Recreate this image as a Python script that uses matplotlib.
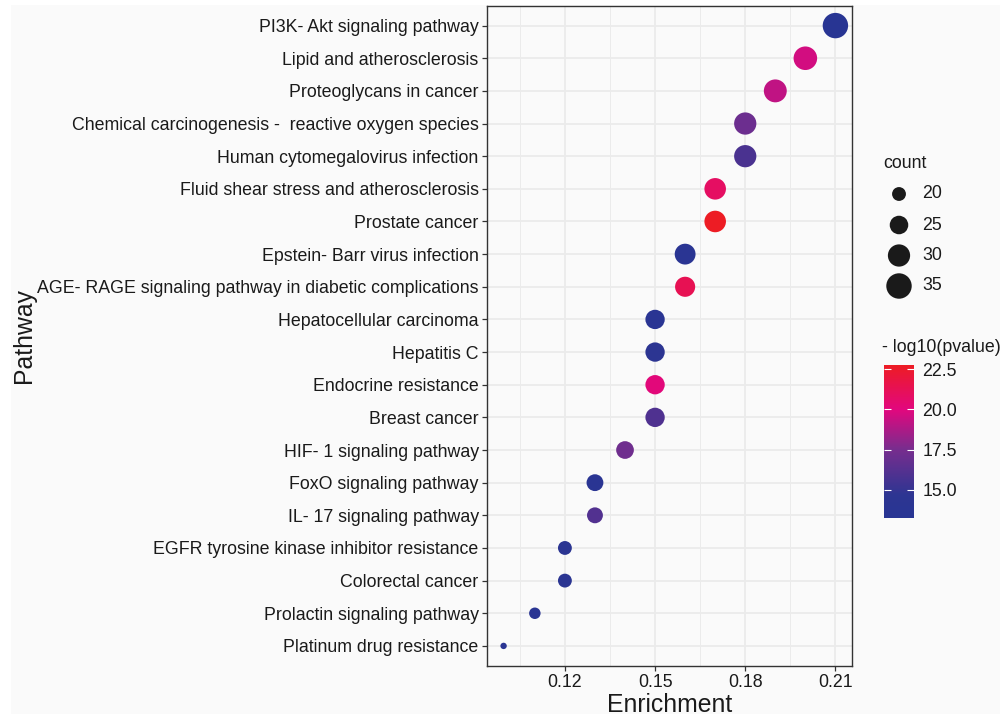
import numpy as np
import matplotlib
matplotlib.use('Agg')
import matplotlib.pyplot as plt
from matplotlib.colors import LinearSegmentedColormap, Normalize
from matplotlib.colorbar import ColorbarBase
from matplotlib.patches import Rectangle

# pathways, top to bottom as shown in the chart
pathways = [
    'PI3K- Akt signaling pathway',
    'Lipid and atherosclerosis',
    'Proteoglycans in cancer',
    'Chemical carcinogenesis -  reactive oxygen species',
    'Human cytomegalovirus infection',
    'Fluid shear stress and atherosclerosis',
    'Prostate cancer',
    'Epstein- Barr virus infection',
    'AGE- RAGE signaling pathway in diabetic complications',
    'Hepatocellular carcinoma',
    'Hepatitis C',
    'Endocrine resistance',
    'Breast cancer',
    'HIF- 1 signaling pathway',
    'FoxO signaling pathway',
    'IL- 17 signaling pathway',
    'EGFR tyrosine kinase inhibitor resistance',
    'Colorectal cancer',
    'Prolactin signaling pathway',
    'Platinum drug resistance',
]
enrichment = [0.21, 0.20, 0.19, 0.18, 0.18, 0.17, 0.17, 0.16, 0.16, 0.15,
              0.15, 0.15, 0.15, 0.14, 0.13, 0.13, 0.12, 0.12, 0.11, 0.0996]
count = [35, 32, 31, 30, 30, 29, 29, 28, 27, 26,
         26, 26, 26, 24, 23, 22, 20, 20, 18, 15]
neglog_p = [13.26, 19.6, 19.2, 17.1, 15.8, 20.85, 22.75, 13.8, 21.3, 14.0,
            14.4, 20.1, 16.0, 17.2, 14.0, 16.1, 14.2, 14.2, 14.0, 14.0]

x_ticks = [0.12, 0.15, 0.18, 0.21]
size_breaks = [20, 25, 30, 35]
color_breaks = [15.0, 17.5, 20.0, 22.5]

BG = '#fafafa'
FONT = 'Liberation Sans'
TXT = 12.8
INK = '#1a1a1a'


def point_area(c, cmin, cmax, dmin=4.6, dmax=18.3):
    # area grows linearly with count (like ggplot scale_size)
    d2 = dmin ** 2 + (np.asarray(c, float) - cmin) / (cmax - cmin) * (dmax ** 2 - dmin ** 2)
    return d2


def main():
    plt.rcParams['font.family'] = [FONT, 'DejaVu Sans']

    cmap = LinearSegmentedColormap.from_list('pval', [
        (0.0, '#283593'), (0.15, '#2d3592'), (0.45, '#782d8e'),
        (0.71, '#e2077e'), (1.0, '#ed1c24')])
    norm = Normalize(vmin=min(neglog_p), vmax=max(neglog_p))
    cmin, cmax = min(count), max(count)

    fig = plt.figure(figsize=(10.04, 7.18), dpi=100, facecolor='white')

    # overlay in pixel coordinates for background and the size legend
    lax = fig.add_axes([0, 0, 1, 1], zorder=-1)
    lax.set_xlim(0, 1004)
    lax.set_ylim(718, 0)
    lax.axis('off')
    lax.add_patch(Rectangle((11, 5), 989, 709, facecolor=BG, edgecolor='none'))

    ax = fig.add_axes([487 / 1004, 1 - 665.5 / 718, 365 / 1004, 659.5 / 718])
    ax.set_facecolor(BG)

    ypos = np.arange(len(pathways))[::-1]
    ax.scatter(enrichment, ypos, s=point_area(count, cmin, cmax),
               c=neglog_p, cmap=cmap, norm=norm, edgecolors='none', zorder=3)

    # axis settings
    xr = max(enrichment) - min(enrichment)
    ax.set_xlim(min(enrichment) - 0.05 * xr, max(enrichment) + 0.05 * xr)
    ax.set_ylim(-0.6, len(pathways) - 0.4)
    ax.set_xticks(x_ticks)
    ax.set_xticklabels(['%.2f' % t for t in x_ticks])
    ax.set_xticks([0.105, 0.135, 0.165, 0.195], minor=True)
    ax.set_yticks(ypos)
    ax.set_yticklabels(pathways)
    ax.tick_params(axis='both', which='major', length=3.5, width=0.9,
                   color='#333333', labelsize=TXT, labelcolor=INK, pad=2.5)
    ax.tick_params(axis='x', which='minor', length=0)

    # grid
    ax.grid(True, which='major', color='#ebebeb', linewidth=1.3, zorder=0)
    ax.grid(True, which='minor', axis='x', color='#ebebeb', linewidth=0.7, zorder=0)
    ax.set_axisbelow(True)
    for sp in ax.spines.values():
        sp.set_color('#333333')
        sp.set_linewidth(1.0)

    # axis titles
    fig.text(669.5 / 1004, 1 - 712 / 718, 'Enrichment', fontsize=17.8,
             ha='center', va='baseline', color=INK)
    fig.text(24 / 1004, 1 - 335 / 718, 'Pathway', fontsize=17.8, rotation=90,
             ha='center', va='center', color=INK)

    # size legend
    lax.text(883, 168, 'count', fontsize=TXT, ha='left', va='baseline', color=INK)
    leg_y = [194, 225, 255.5, 286]
    lax.scatter([899] * len(size_breaks), leg_y, s=point_area(size_breaks, cmin, cmax),
                color=INK, edgecolors='none')
    for b, y in zip(size_breaks, leg_y):
        lax.text(922, y, str(b), fontsize=TXT, ha='left', va='center', color=INK)

    # colour bar
    fig.text(882 / 1004, 1 - 348 / 718, '- log10(pvalue)', fontsize=TXT,
             ha='left', va='center', color=INK)
    cax = fig.add_axes([884 / 1004, 1 - 518 / 718, 30 / 1004, 153 / 718])
    cb = ColorbarBase(cax, cmap=cmap, norm=norm, orientation='vertical')
    cb.outline.set_visible(False)
    cb.set_ticks(color_breaks)
    cb.set_ticklabels(['%.1f' % t for t in color_breaks])
    cax.tick_params(axis='y', direction='in', color='white', length=5, width=0.8,
                    left=True, right=True, labelsize=TXT, labelcolor=INK, pad=6)

    plt.savefig('out.png', dpi=100, facecolor='white')


if __name__ == '__main__':
    main()
